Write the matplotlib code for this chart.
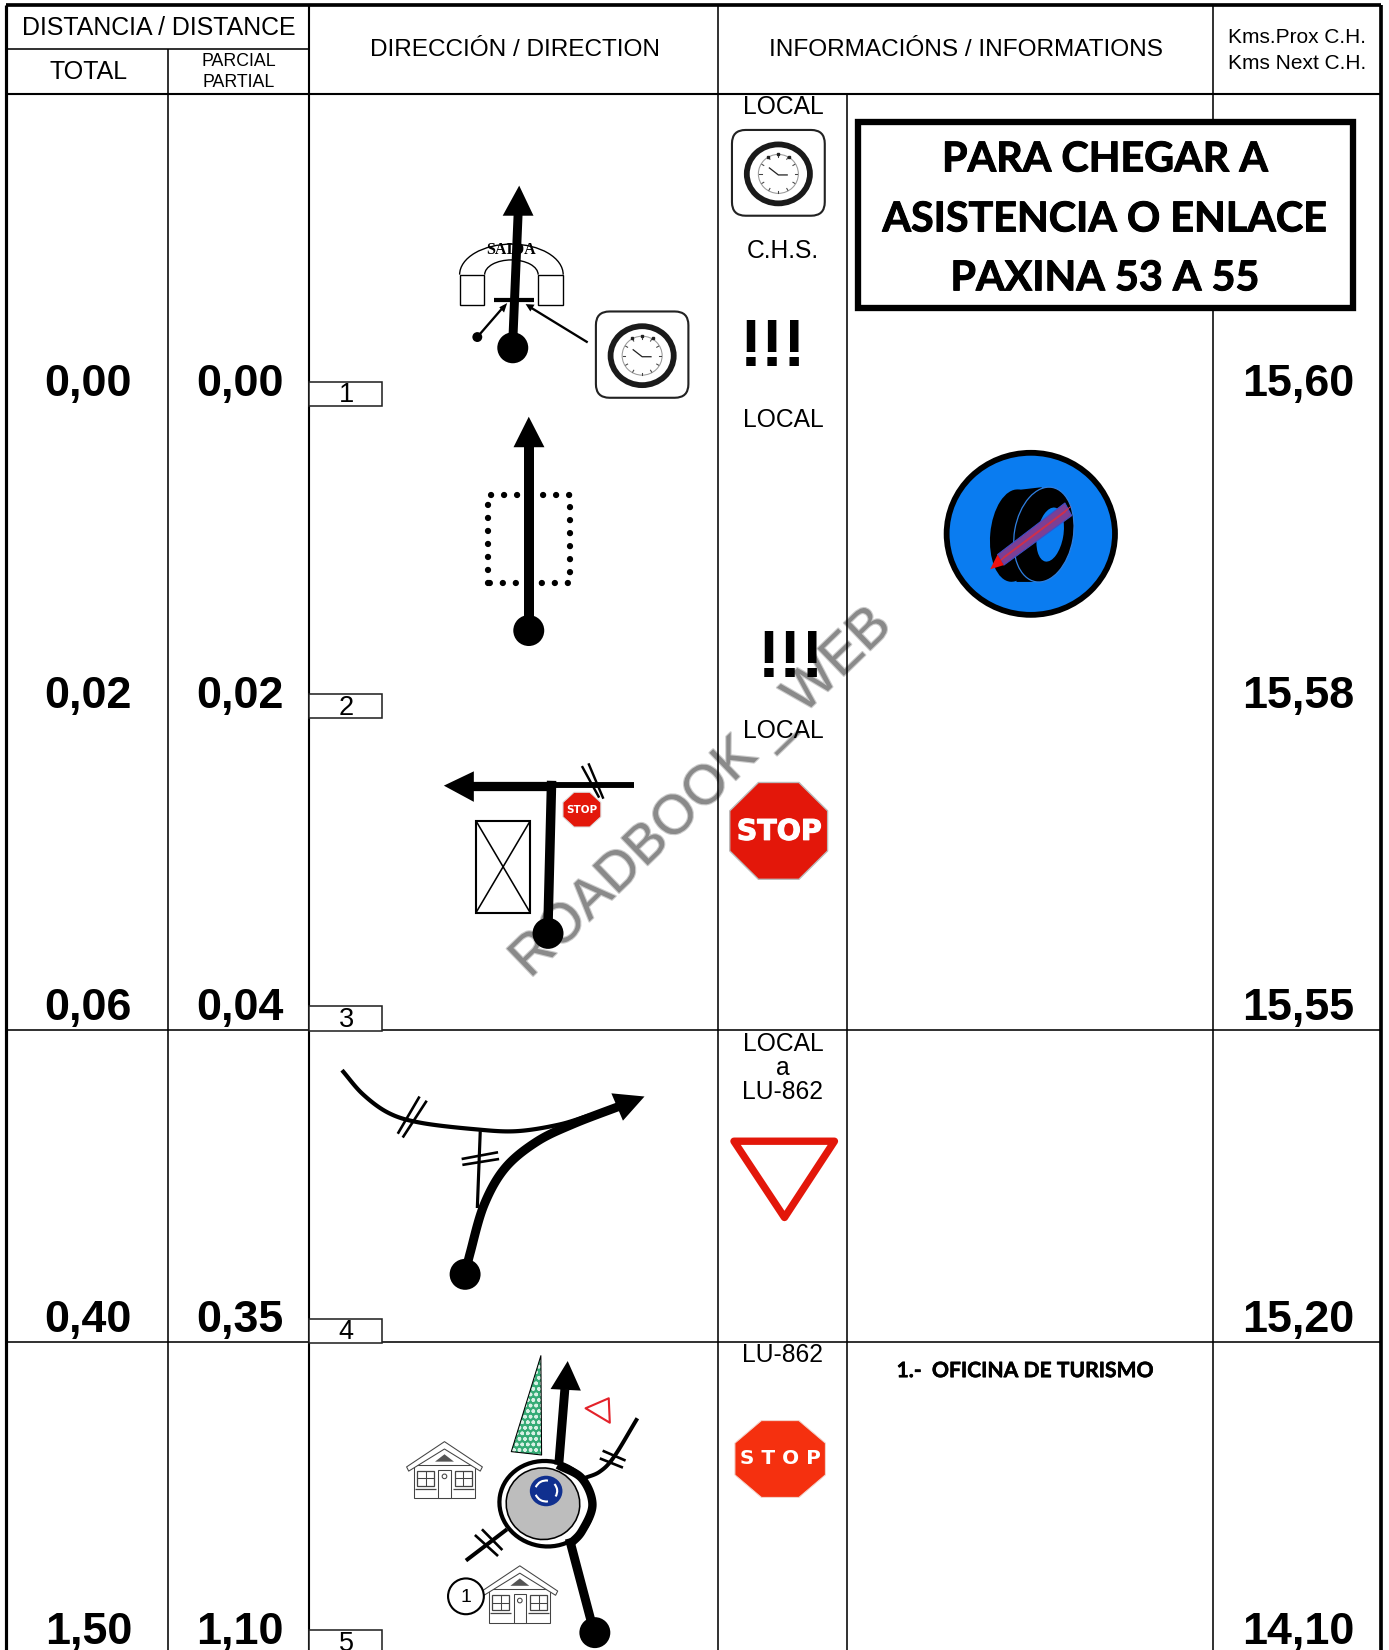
import numpy as np
import matplotlib
matplotlib.use('Agg')
import matplotlib.pyplot as plt
import matplotlib.patheffects as pe
from matplotlib.patches import Circle, Ellipse, FancyBboxPatch, Polygon, Rectangle, Arc

# Roadbook values
step_no = ['1', '2', '3', '4', '5']
total_km = ['0,00', '0,02', '0,06', '0,40', '1,50']
partial_km = ['0,00', '0,02', '0,04', '0,35', '1,10']
next_km = ['15,60', '15,58', '15,55', '15,20', '14,10']
road_labels = ['LOCAL', 'LOCAL', 'LOCAL', 'LOCAL\na\nLU-862', 'LU-862']
col_x = [6, 160, 294, 682, 805, 1153, 1312]
row_base = [376.2, 672.9, 969.6, 1266.2, 1562.6]
row_top = [89, 386, 682, 979, 1275]

ARIAL = 'Liberation Sans'
RED = '#e3170a'

fig = plt.figure(figsize=(13.89, 16.5), dpi=100)
ax = fig.add_axes([0, 0, 1, 1])
ax.set_xlim(0, 1320)
ax.set_ylim(1568, 0)
ax.axis('off')


def lw(w):
    # widths are read in picture units, matplotlib wants points
    return w * 0.7576


def line(xs, ys, w=1.5, color='black', cap='butt', z=3):
    ax.plot(xs, ys, color=color, lw=lw(w), solid_capstyle=cap, solid_joinstyle='round', zorder=z)


def smooth(pts, n=16):
    # Catmull-Rom through the traced points of a road
    p = np.array(pts, dtype=float)
    p = np.vstack([2 * p[0] - p[1], p, 2 * p[-1] - p[-2]])
    out = []
    for i in range(1, len(p) - 2):
        for t in np.linspace(0, 1, n, endpoint=False):
            a = 2 * p[i] + (p[i + 1] - p[i - 1]) * t
            b = (2 * p[i - 1] - 5 * p[i] + 4 * p[i + 1] - p[i + 2]) * t ** 2
            c = (3 * p[i] - p[i - 1] - 3 * p[i + 1] + p[i + 2]) * t ** 3
            out.append(0.5 * (a + b + c))
    out.append(p[-2])
    return np.array(out)


def road(pts, w, z=3):
    s = smooth(pts)
    line(s[:, 0], s[:, 1], w=w, z=z)


def poly(pts, fc='black', ec='none', w=0, z=4, **kw):
    ax.add_patch(Polygon(pts, closed=True, fc=fc, ec=ec, lw=lw(w), zorder=z, joinstyle='round', **kw))


def dot(x, y, r=14.7, z=5):
    ax.add_patch(Ellipse((x, y), 2 * r, 2 * r, fc='black', ec='none', zorder=z))


def octagon(cx, cy, rx, ry, fc, ec='none', w=0, z=4):
    ang = np.radians(22.5 + 45 * np.arange(8))
    k = 1 / np.cos(np.radians(22.5))
    pts = np.c_[cx + rx * k * np.cos(ang), cy + ry * k * np.sin(ang)]
    poly(pts, fc=fc, ec=ec, w=w, z=z)


def clock(x0, y0, x1, y1):
    ax.add_patch(FancyBboxPatch((x0 + 11, y0 + 11), x1 - x0 - 22, y1 - y0 - 22,
                                boxstyle='round,pad=11,rounding_size=13', fc='white', ec='#222222', lw=lw(2), zorder=4))
    cx, cy = (x0 + x1) / 2, (y0 + y1) / 2 + 1
    ax.add_patch(Ellipse((cx, cy), 60, 56, fc='white', ec='#1a1a1a', lw=lw(5.5), zorder=5))
    ax.add_patch(Ellipse((cx, cy), 38, 37, fc='white', ec='#9a9a9a', lw=lw(1), zorder=5))
    for a in np.radians(np.arange(0, 360, 30)):
        ax.plot([cx + 16 * np.cos(a), cx + 18 * np.cos(a)], [cy + 16 * np.sin(a), cy + 18 * np.sin(a)],
                color='#444444', lw=lw(1), zorder=6)
    for dx in (-10, 0, 10):
        ax.plot(cx + dx, cy - 19 + abs(dx) * 0.25, 's', ms=2, color='#222222', zorder=6)
    line([cx - 9, cx, cx + 9], [cy - 6, cy + 1, cy + 1], w=1.2, color='#222222', z=6)


def house(cx, top):
    grey = '#444444'
    roof = [(cx, top), (cx + 36, top + 24), (cx + 34, top + 28), (cx, top + 7), (cx - 34, top + 28), (cx - 36, top + 24)]
    poly(roof, fc='white', ec=grey, w=1, z=5)
    ax.add_patch(Rectangle((cx - 29, top + 22), 58, 32, fc='white', ec=grey, lw=lw(1), zorder=4))
    poly([(cx, top + 12), (cx + 9, top + 19), (cx - 9, top + 19)], fc='#555555', z=6)
    for dx in (-26, 10):
        ax.add_patch(Rectangle((cx + dx, top + 28), 16, 14, fc='white', ec=grey, lw=lw(1.2), zorder=6))
        line([cx + dx + 8, cx + dx + 8], [top + 28, top + 42], w=1, color=grey, z=7)
        line([cx + dx, cx + dx + 16], [top + 35, top + 35], w=1, color=grey, z=7)
        line([cx + dx - 2, cx + dx + 18], [top + 45, top + 45], w=1.2, color=grey, z=7)
    ax.add_patch(Rectangle((cx - 6, top + 27), 12, 27, fc='white', ec=grey, lw=lw(1), zorder=6))
    ax.add_patch(Circle((cx, top + 33), 2.2, fc='white', ec=grey, lw=lw(1), zorder=7))


# table grid
x_l, x_tot, x_par, x_dir, x_inf, x_note, x_r = col_x
line([x_l, x_par], [47, 47])
line([x_l, x_r], [89, 89], w=2)
line([x_tot, x_tot], [47, 1568])
line([x_par, x_par], [5, 1568], w=2)
line([x_dir, x_dir], [5, 1568])
line([x_inf, x_inf], [89, 1568])
line([x_note, x_note], [5, 1568])
line([x_l, x_r], [979, 979])
line([x_l, x_r], [1275, 1275])
line([x_l, x_r], [5, 5], w=3.5)
line([x_l, x_l], [5, 1568], w=3)
line([x_r, x_r], [5, 1568], w=3.5)

# header
ax.text(151, 26.5, 'DISTANCIA / DISTANCE', fontsize=17.9, family=ARIAL, ha='center', va='center')
ax.text(84, 68.5, 'TOTAL', fontsize=18, family=ARIAL, ha='center', va='center')
ax.text(227, 58.5, 'PARCIAL', fontsize=12.8, family=ARIAL, ha='center', va='center')
ax.text(227, 78.5, 'PARTIAL', fontsize=12.8, family=ARIAL, ha='center', va='center')
ax.text(489, 47.5, 'DIRECCIÓN / DIRECTION', fontsize=17.6, family=ARIAL, ha='center', va='center')
ax.text(918, 47.5, 'INFORMACIÓNS / INFORMATIONS', fontsize=17.6, family=ARIAL, ha='center', va='center')
ax.text(1233, 35.5, 'Kms.Prox C.H.', fontsize=15, family=ARIAL, ha='center', va='center')
ax.text(1233, 60.5, 'Kms Next C.H.', fontsize=15, family=ARIAL, ha='center', va='center')

# numbers, step boxes and road labels per row
for i in range(5):
    b = row_base[i]
    ax.text(84, b, total_km[i], fontsize=32.3, fontweight='bold', family=ARIAL, ha='center', va='baseline', zorder=6)
    ax.text(228, b, partial_km[i], fontsize=32.3, fontweight='bold', family=ARIAL, ha='center', va='baseline', zorder=6)
    ax.text(1234, b, next_km[i], fontsize=32.3, fontweight='bold', family=ARIAL, ha='center', va='baseline', zorder=6)
    ax.add_patch(Rectangle((294, b - 13.2), 69, 23, fc='white', ec='#222222', lw=lw(1.5), zorder=4))
    ax.text(329, b + 6.2, step_no[i], fontsize=19.5, family=ARIAL, ha='center', va='baseline', zorder=5)
    if '\n' in road_labels[i]:
        for k, part in enumerate(road_labels[i].split('\n')):
            ax.text(744, row_top[i] + 13 + 23 * k, part, fontsize=17.7, family=ARIAL, ha='center', va='center', zorder=6)
    else:
        ax.text(744, row_top[i] + 13, road_labels[i], fontsize=17.7, family=ARIAL, ha='center', va='center', zorder=6)

ax.text(744, 238.5, 'C.H.S.', fontsize=17.7, family=ARIAL, ha='center', va='center')
ax.text(735, 348, '!!!', fontsize=48, fontweight='bold', family=ARIAL, ha='center', va='baseline')
ax.text(752, 643, '!!!', fontsize=48, fontweight='bold', family=ARIAL, ha='center', va='baseline')

# info box
ax.add_patch(Rectangle((815, 115.5), 470.5, 177.5, fc='white', ec='black', lw=lw(6), zorder=6))
heavy = [pe.withStroke(linewidth=0.7, foreground='black')]
for txt, y in zip(['PARA CHEGAR A', 'ASISTENCIA O ENLACE', 'PAXINA 53 A 55'], [152, 209, 265]):
    ax.text(1050, y, txt, fontsize=29.7, fontweight='bold', family='Lato', ha='center', va='center', zorder=7,
            path_effects=heavy)
ax.text(852, 1303, '1.-  OFICINA DE TURISMO', fontsize=15.2, fontweight='bold', family='Lato', ha='left', va='center',
        path_effects=[pe.withStroke(linewidth=0.4, foreground='black')])

# step 1
clock(695.6, 123.5, 783.8, 205)
clock(566.3, 296, 654.2, 378)
for x0, x1 in [(436.7, 460.4), (511.3, 535)]:
    ax.add_patch(Rectangle((x0, 261), x1 - x0, 28.8, fc='white', ec='black', lw=lw(1.3), zorder=2))
ax.add_patch(Arc((486, 261), 98.4, 58, theta1=180, theta2=360, color='black', lw=lw(1.3), zorder=2))
ax.add_patch(Arc((486, 261), 50.8, 28, theta1=180, theta2=360, color='black', lw=lw(1.3), zorder=2))
line([487.3, 492.5], [325, 200], w=8.5)
poly([(493.4, 176.4), (477.7, 205), (507, 205)])
dot(487.3, 330.5)
ax.text(486, 238, 'SAIDA', fontsize=11.5, fontweight='bold', family='Liberation Serif', ha='center', va='center', zorder=5)
line([469.3, 507.5], [285, 285], w=4, z=5)
dot(453.6, 320.3, r=4.7)
line([453.6, 479], [320.3, 291], w=2.2)
poly([(482, 288), (474.5, 292), (479, 297)], z=5)
line([558.5, 504], [325.4, 292], w=2.2)
poly([(499.5, 289), (508, 289.5), (504, 296)], z=5)

# step 2
ax.plot([463.8, 463.8, 542, 542, 463.8], [554, 470.6, 470.6, 554, 554], color='black', lw=lw(6),
        linestyle=(0, (0.01, 2.05)), dash_capstyle='round', zorder=3)
line([502.5, 502.5], [590, 422], w=9.5, z=4)
poly([(502.5, 396), (488, 425), (517.4, 425)])
dot(502.5, 599.2)

# step 3
ax.add_patch(Rectangle((452.3, 780), 51.6, 87.4, fc='white', ec='black', lw=lw(2), zorder=3))
line([452.3, 503.9], [780, 867.4], w=1.5)
line([452.3, 503.9], [867.4, 780], w=1.5)
line([524.2, 602.3], [746, 746], w=5.6)
line([553, 569.4], [728, 758], w=2.3)
line([559.2, 573.4], [725.4, 759], w=2.3)
line([520.8, 524.2], [878, 742], w=9)
line([526, 445], [746.6, 746.6], w=8.8)
poly([(421.8, 746.6), (450.3, 733), (450.3, 762)])
dot(520.8, 887)
octagon(553, 769.4, 18, 16.5, RED, ec='#dddddd', w=1, z=6)
ax.text(553, 770, 'STOP', color='white', fontsize=7.5, fontweight='bold', family='DejaVu Sans', ha='center', va='center', zorder=7)
octagon(740, 789.6, 46.5, 46, RED, ec='#bbbbbb', w=1.3)
ax.text(740.5, 790.5, 'STOP', color='white', fontsize=20.5, fontweight='bold', family='DejaVu Sans', ha='center', va='center', zorder=5,
        path_effects=[pe.withStroke(linewidth=0.8, foreground='white')])

# step 4
road([(325, 1017), (345, 1040), (370, 1058), (400, 1067), (450, 1073), (490, 1075), (530, 1069), (560, 1060)], 4)
line([456.4, 453.6], [1075, 1148], w=3)
line([438.7, 473.3], [1101.4, 1095], w=2.5)
line([439.4, 474.3], [1107, 1101.4], w=2.5)
line([405.5, 382.7], [1046, 1081], w=2.5)
line([398.7, 378], [1042, 1077.4], w=2.5)
road([(442, 1211), (447, 1190), (460, 1145), (480, 1110), (510, 1085), (545, 1068), (592, 1050)], 8.5)
poly([(612.5, 1042), (581, 1039), (592, 1065)])
dot(442, 1211)
poly([(697.5, 1084.5), (793, 1084.5), (745.5, 1157)], fc='white', ec=RED, w=7)

# step 5
ax.add_patch(Ellipse((519, 1429), 89, 81, angle=10, fc='white', ec='black', lw=lw(4), zorder=3))
ax.add_patch(Ellipse((516, 1429), 70, 68, angle=10, fc='#bdbdbd', ec='black', lw=lw(1.5), zorder=4))
road([(530, 1392), (553, 1405), (563, 1430), (553, 1455), (541, 1468)], 8, z=5)
line([541, 561.6], [1462, 1540], w=8.5)
dot(565.3, 1551.5)
line([531, 536.8], [1392, 1320], w=8.5, z=6)
poly([(539.5, 1293.4), (523.2, 1320), (552, 1321.5)])
road([(605.7, 1347.8), (583.6, 1384.3), (570, 1398.5), (554.8, 1404.9)], 3.8)
line([572.7, 594.5], [1378.6, 1388], w=2.5)
line([570, 592], [1385.9, 1394.7], w=2.5)
line([481.8, 442.8], [1453.3, 1483], w=3.8)
line([451.3, 473.3], [1458.7, 1478.7], w=2.5)
line([458, 477.4], [1453.3, 1473], w=2.5)
ax.add_patch(Polygon([(514, 1288.3), (485.9, 1379.5), (514.7, 1382.7)], closed=True, fc='#35ab75', ec='#d8f0e4',
                     hatch='ooo', lw=0, zorder=3))
poly([(514, 1288.3), (485.9, 1379.5), (514.7, 1382.7)], fc='none', ec='black', w=1, z=4)
poly([(556.5, 1338.3), (578.5, 1328.8), (579.5, 1352)], fc='white', ec='#e3222a', w=2)
ax.add_patch(Ellipse((519, 1416.9), 31, 29, fc='#10308f', ec='none', zorder=6))
for t1, t2 in [(200, 280), (320, 30), (80, 160)]:
    ax.add_patch(Arc((519, 1416.9), 21, 20, theta1=t1, theta2=t2, color='white', lw=lw(2), zorder=7))
house(422.4, 1370)
house(494, 1488)
ax.add_patch(Ellipse((442.8, 1517), 34, 34, fc='white', ec='black', lw=lw(2), zorder=7))
ax.text(442.8, 1518, '1', fontsize=14, family=ARIAL, ha='center', va='center', zorder=8)
octagon(741.4, 1386.5, 43, 36.5, '#f5300f', ec='#f3d5cd', w=1)
ax.text(741.4, 1386, 'S T O P', color='white', fontsize=14.4, fontweight='bold', family='DejaVu Sans', ha='center', va='center', zorder=5)

# blue tyre sign
ax.add_patch(Ellipse((979.6, 507.3), 160, 154, fc='#0a7cf0', ec='black', lw=lw(5.5), zorder=3))
ax.add_patch(Ellipse((964, 509), 46, 88, angle=5, fc='black', ec='none', zorder=4))
poly([(964, 466), (990, 463), (992, 553), (966, 553)], z=4)
ax.add_patch(Ellipse((992, 508), 56, 91, angle=10, fc='black', ec='#2f7fe0', lw=lw(1.2), zorder=5))
ax.add_patch(Ellipse((998, 508), 25, 52, angle=10, fc='#0a7cf0', ec='none', zorder=6))
poly([(1012, 478), (1018.5, 490), (954, 537), (948, 527)], fc='#7b3f95', ec='#3a50c8', w=1, z=7)
for k in (-2.5, 0, 2.5):
    line([951 + k, 1015 + k], [532 - k, 484 - k], w=0.9, color='#d0304a', z=8)
poly([(948, 527), (954, 537), (941, 541)], fc='#f01010', z=8)

# watermark
ax.text(667, 754, 'ROADBOOK _ WEB', fontsize=39.7, color='#8a8a8a', family=ARIAL, rotation=44, rotation_mode='anchor',
        ha='center', va='center', zorder=2.5,
        path_effects=[pe.withStroke(linewidth=1.6, foreground='#cccccc')])

fig.savefig('out.png', dpi=100)
